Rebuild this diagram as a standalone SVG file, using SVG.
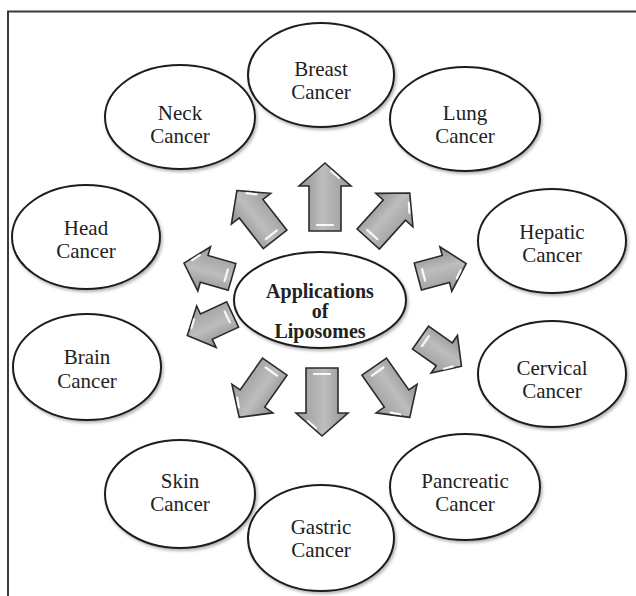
<svg xmlns="http://www.w3.org/2000/svg" width="636" height="596" viewBox="0 0 636 596">
<style>
.frame{stroke:#3a3a3a;stroke-width:2;fill:none}
.node ellipse{fill:#fff;stroke:#1e1e1e;stroke-width:2;filter:url(#sh)}
.lbl{font-family:"Liberation Serif","Times New Roman",serif;font-size:21px;fill:#222;text-anchor:middle}
.center{font-weight:bold;font-size:20px}
.arr{fill:url(#ag);stroke:#2a2a2a;stroke-width:1.6;stroke-linejoin:miter}
.hl{stroke:#fff;stroke-width:2.2;stroke-linecap:round;fill:none;opacity:0.9}
</style>
<defs>
<filter id="sh" x="-10%" y="-10%" width="125%" height="130%">
<feDropShadow dx="1.5" dy="2" stdDeviation="1.5" flood-color="#000" flood-opacity="0.3"/>
</filter>
<linearGradient id="ag" x1="0" y1="0" x2="1" y2="0">
<stop offset="0" stop-color="#8e8e8e"/>
<stop offset="0.45" stop-color="#bdbdbd"/>
<stop offset="1" stop-color="#9a9a9a"/>
</linearGradient>
<g id="aL">
<path class="arr" d="M0,-34 L26,-11 L16,-11 L16,34 L-16,34 L-16,-11 L-26,-11 Z"/>
<path class="hl" d="M6,-26 L14,-19 M-8,28 L8,28"/>
</g>
<g id="aM">
<path class="arr" d="M0,-31 L25,-8 L15,-8 L15,31 L-15,31 L-15,-8 L-25,-8 Z"/>
<path class="hl" d="M6,-23 L13,-16 M-7,25 L7,25"/>
</g>
<g id="aS">
<path class="arr" d="M0,-25 L23,-4 L14,-4 L14,25 L-14,25 L-14,-4 L-23,-4 Z"/>
<path class="hl" d="M5,-18 L12,-12 M-6,19 L6,19"/>
</g>
</defs>
<rect width="636" height="596" fill="#fff"/>
<path class="frame" d="M8,596 V11.5 H636"/>
<g id="connectors">
<use href="#aL" transform="translate(325,197)"/>
<use href="#aM" transform="translate(256,215) rotate(-38)"/>
<use href="#aM" transform="translate(389,216) rotate(42)"/>
<use href="#aS" transform="translate(208,270) rotate(-74)"/>
<use href="#aS" transform="translate(442,270) rotate(75)"/>
<use href="#aS" transform="translate(210,325) rotate(-115)"/>
<use href="#aS" transform="translate(441,352) rotate(125)"/>
<use href="#aM" transform="translate(257,392) rotate(-145)"/>
<use href="#aL" transform="translate(322,402) rotate(180)"/>
<use href="#aM" transform="translate(392,392) rotate(145)"/>
</g>
<g id="n-neck" class="node"><ellipse cx="180" cy="117" rx="75" ry="52"/><text class="lbl" x="180" y="120">Neck</text><text class="lbl" x="180" y="143">Cancer</text></g>
<g id="n-lung" class="node"><ellipse cx="465" cy="119" rx="75" ry="52"/><text class="lbl" x="465" y="120">Lung</text><text class="lbl" x="465" y="143">Cancer</text></g>
<g id="n-breast" class="node"><ellipse cx="321" cy="75" rx="73" ry="52"/><text class="lbl" x="321" y="76">Breast</text><text class="lbl" x="321" y="99">Cancer</text></g>
<g id="n-head" class="node"><ellipse cx="86" cy="237" rx="74" ry="52"/><text class="lbl" x="86" y="235">Head</text><text class="lbl" x="86" y="258">Cancer</text></g>
<g id="n-hepatic" class="node"><ellipse cx="552" cy="241" rx="74" ry="52"/><text class="lbl" x="552" y="239">Hepatic</text><text class="lbl" x="552" y="262">Cancer</text></g>
<g id="n-brain" class="node"><ellipse cx="87" cy="367" rx="74" ry="53"/><text class="lbl" x="87" y="364">Brain</text><text class="lbl" x="87" y="388">Cancer</text></g>
<g id="n-cervical" class="node"><ellipse cx="552" cy="374" rx="74" ry="53"/><text class="lbl" x="552" y="375">Cervical</text><text class="lbl" x="552" y="398">Cancer</text></g>
<g id="n-skin" class="node"><ellipse cx="180" cy="494" rx="75" ry="54"/><text class="lbl" x="180" y="488">Skin</text><text class="lbl" x="180" y="511">Cancer</text></g>
<g id="n-pancreatic" class="node"><ellipse cx="465" cy="487" rx="75" ry="53"/><text class="lbl" x="465" y="488">Pancreatic</text><text class="lbl" x="465" y="511">Cancer</text></g>
<g id="n-gastric" class="node"><ellipse cx="321" cy="538" rx="73" ry="53"/><text class="lbl" x="321" y="534">Gastric</text><text class="lbl" x="321" y="557">Cancer</text></g>
<g id="n-center" class="node"><ellipse cx="320" cy="300" rx="86" ry="48"/><text class="lbl center" x="320" y="298">Applications</text><text class="lbl center" x="320" y="318">of</text><text class="lbl center" x="320" y="338">Liposomes</text></g>
</svg>
